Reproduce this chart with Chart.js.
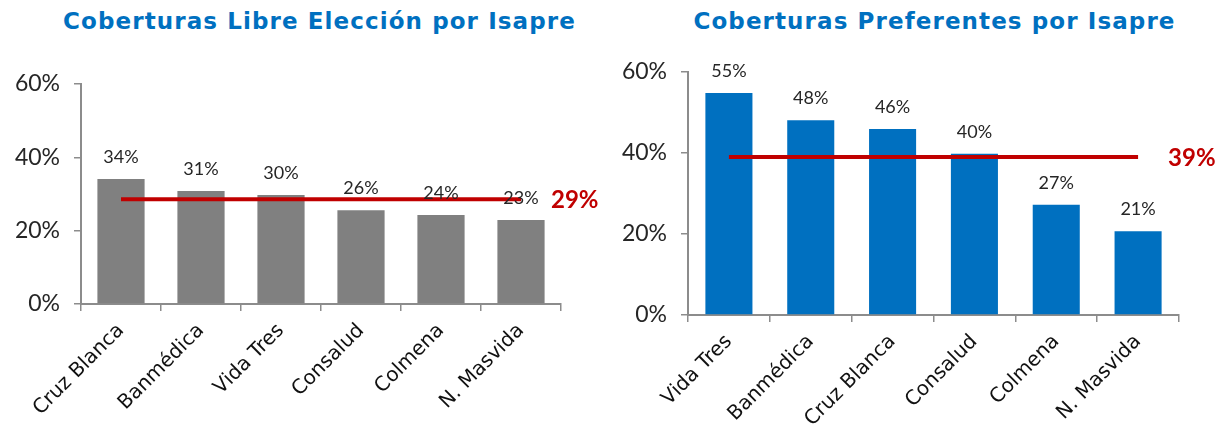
<!DOCTYPE html>
<html>
<head>
<meta charset="utf-8">
<script src="https://cdn.jsdelivr.net/npm/chart.js@4"></script>
<style>
    body { margin: 0; background: #fff; }
    .panel { position: absolute; top: 0; width: 613px; height: 427px; }
    .title {
        position: absolute; top: 8px; width: 100%; text-align: center;
        font-family: "DejaVu Sans", sans-serif; font-size: 23px; font-weight: bold;
        letter-spacing: 1.1px;
        color: #0070C0; white-space: nowrap;
    }
    canvas { position: absolute; left: 0; top: 0; }
</style>
</head>
<body>
<div class="panel" style="left:0">
    <div class="title" style="left:13px">Coberturas Libre Elección por Isapre</div>
    <canvas id="chartLeft" width="613" height="427"></canvas>
</div>
<div class="panel" style="left:613px">
    <div class="title" style="left:15px">Coberturas Preferentes por Isapre</div>
    <canvas id="chartRight" width="613" height="427"></canvas>
</div>
<script>
// Libre Elección
const leCategories = ['Cruz Blanca', 'Banmédica', 'Vida Tres', 'Consalud', 'Colmena', 'N. Masvida'];
const leValues = [34.1, 30.8, 29.7, 25.6, 24.3, 22.9];
const leAverage = [28.6, 28.6, 28.6, 28.6, 28.6, 28.6];

// Preferentes
const prCategories = ['Vida Tres', 'Banmédica', 'Cruz Blanca', 'Consalud', 'Colmena', 'N. Masvida'];
const prValues = [54.8, 48.1, 45.9, 39.8, 27.2, 20.7];
const prAverage = [39.0, 39.0, 39.0, 39.0, 39.0, 39.0];

const yTicks = [0, 20, 40, 60];

const axisGrey = '#8c8c8c';
const textDark = '#262626';
const avgRed = '#C00000';

/**
 * Value labels above bars and the average label next to the line end
 */
const labelsPlugin = {
    id: 'barLabels',
    afterDatasetsDraw(chart) {
        const ctx = chart.ctx;
        ctx.save();
        const barMeta = chart.getDatasetMeta(0);
        ctx.font = '18px Lato, sans-serif';
        ctx.fillStyle = textDark;
        ctx.textAlign = 'center';
        ctx.textBaseline = 'middle';
        barMeta.data.forEach((bar, i) => {
            const v = chart.data.datasets[0].data[i];
            ctx.fillText(Math.round(v) + '%', bar.x, bar.y - 22);
        });

        const lineMeta = chart.getDatasetMeta(1);
        const last = lineMeta.data[lineMeta.data.length - 1];
        const avg = chart.data.datasets[1].data[0];
        ctx.font = 'bold 24px Lato, sans-serif';
        ctx.fillStyle = avgRed;
        ctx.textAlign = 'left';
        ctx.fillText(Math.round(avg) + '%', last.x + 30, last.y + 1);
        ctx.restore();
    }
};

function makeChart(canvasId, categories, values, average, barColor, layout) {
    const ctx = document.getElementById(canvasId);
    return new Chart(ctx, {
        type: 'bar',
        data: {
            labels: categories,
            datasets: [
                {
                    type: 'bar',
                    data: values,
                    backgroundColor: barColor,
                    categoryPercentage: 1,
                    barPercentage: layout.barPct,
                    order: 2
                },
                {
                    type: 'line',
                    data: average,
                    borderColor: avgRed,
                    borderWidth: 4,
                    pointRadius: 0,
                    fill: false,
                    order: 1
                }
            ]
        },
        options: {
            responsive: false,
            animation: false,
            layout: {
                padding: { top: layout.top, right: layout.right, left: 0, bottom: 0 }
            },
            plugins: {
                legend: { display: false },
                tooltip: { enabled: false }
            },
            scales: {
                x: {
                    offset: true,
                    border: { color: axisGrey, width: 2 },
                    grid: {
                        offset: true,
                        drawOnChartArea: false,
                        color: axisGrey,
                        lineWidth: 1.5,
                        tickLength: 7
                    },
                    ticks: {
                        color: '#111',
                        font: { family: 'DejaVu Sans', size: 20 },
                        minRotation: 45,
                        maxRotation: 45,
                        padding: 8
                    },
                    afterFit(scale) { scale.height = layout.xHeight; }
                },
                y: {
                    min: 0,
                    max: 60,
                    border: { color: axisGrey, width: 2 },
                    grid: {
                        drawOnChartArea: false,
                        color: axisGrey,
                        lineWidth: 1.5,
                        tickLength: 7
                    },
                    afterBuildTicks(scale) {
                        scale.ticks = yTicks.map(v => ({ value: v }));
                    },
                    ticks: {
                        color: textDark,
                        font: { family: 'Lato', size: 23 },
                        padding: 14,
                        callback: v => v + '%'
                    },
                    afterFit(scale) { scale.width = layout.yWidth; }
                }
            }
        },
        plugins: [labelsPlugin]
    });
}

makeChart('chartLeft', leCategories, leValues, leAverage, '#808080',
    { top: 84, right: 52, xHeight: 123, yWidth: 81, barPct: 0.59 });

makeChart('chartRight', prCategories, prValues, prAverage, '#0070C0',
    { top: 72, right: 47, xHeight: 112, yWidth: 75, barPct: 0.575 });
</script>
</body>
</html>
